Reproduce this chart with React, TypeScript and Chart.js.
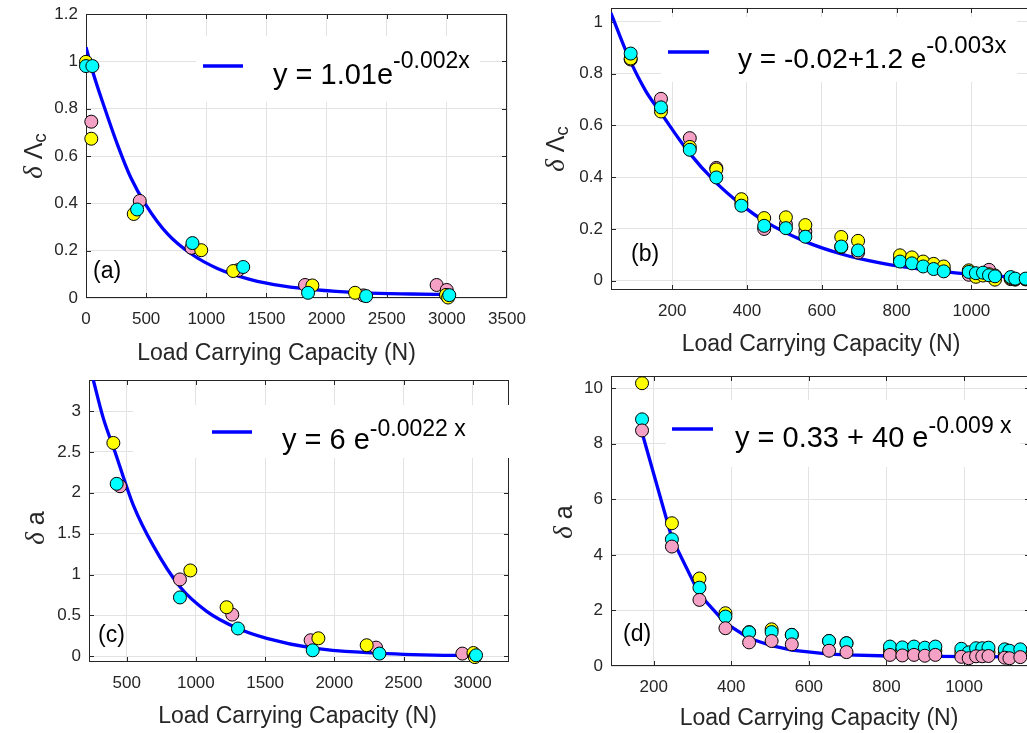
import React, { useEffect, useRef } from "react";
import { Chart, registerables } from "chart.js";

Chart.register(...registerables);

const SANS = '"Liberation Sans", Arial, Helvetica, sans-serif';
const SERIF = '"Liberation Serif", "Times New Roman", serif';

// ---------------- Panel (a) ----------------
const aXTicks = [0, 500, 1000, 1500, 2000, 2500, 3000, 3500];
const aYTicks = [0, 0.2, 0.4, 0.6, 0.8, 1, 1.2];
const aPinkX = [44, 447, 877, 1266, 1821, 2306, 2915, 2999];
const aPinkY = [0.745, 0.41, 0.212, 0.118, 0.055, 0.011, 0.055, 0.034];
const aYellowX = [0, 44, 397, 958, 1224, 1882, 2237, 2993, 3010];
const aYellowY = [0.998, 0.673, 0.355, 0.202, 0.114, 0.053, 0.022, 0.013, 0.002];
const aCyanX = [0, 53, 425, 885, 1307, 1846, 2329, 3020];
const aCyanY = [0.98, 0.98, 0.374, 0.232, 0.131, 0.022, 0.008, 0.012];
const aFitX = [0, 60, 150, 260, 371, 496, 676, 870, 1092, 1369, 1646, 1895, 2300, 2700, 3000];
const aFitY = [1.06, 0.95, 0.81, 0.65, 0.51, 0.395, 0.272, 0.188, 0.125, 0.078, 0.05, 0.035, 0.022, 0.017, 0.015];

// ---------------- Panel (b) ----------------
const bXTicks = [200, 400, 600, 800, 1000];
const bYTicks = [0, 0.2, 0.4, 0.6, 0.8, 1];
const bLoad = [89, 170, 247, 318, 385, 446, 504, 556, 652, 697, 809, 841, 871, 899, 926, 993, 1012, 1031, 1047, 1063, 1105, 1117, 1145];
const bPink = [0.855, 0.703, 0.551, 0.436, 0.3, 0.2, 0.218, 0.19, 0.13, 0.109, 0.08, 0.072, 0.062, 0.052, 0.042, 0.023, 0.02, 0.025, 0.042, 0.02, 0.006, 0.004, 0.005];
const bYellow = [0.859, 0.654, 0.517, 0.43, 0.315, 0.242, 0.245, 0.215, 0.169, 0.154, 0.098, 0.09, 0.074, 0.065, 0.055, 0.04, 0.015, 0.02, 0.025, 0.004, 0.01, 0.006, 0.006];
const bCyan = [0.878, 0.67, 0.506, 0.399, 0.29, 0.212, 0.203, 0.17, 0.132, 0.117, 0.074, 0.067, 0.055, 0.045, 0.036, 0.034, 0.029, 0.031, 0.021, 0.017, 0.014, 0.008, 0.008];
const bFitX = [36, 84, 129, 169, 244, 316, 383, 449, 556, 652, 701, 809, 923, 995, 1101, 1170];
const bFitY = [1.035, 0.862, 0.734, 0.65, 0.497, 0.381, 0.296, 0.228, 0.151, 0.103, 0.085, 0.055, 0.036, 0.025, 0.015, 0.011];

// ---------------- Panel (c) ----------------
const cXTicks = [500, 1000, 1500, 2000, 2500, 3000];
const cYTicks = [0, 0.5, 1, 1.5, 2, 2.5, 3];
const cPinkX = [452, 885, 1263, 1829, 2302, 2925, 3010];
const cPinkY = [2.08, 0.94, 0.51, 0.196, 0.106, 0.033, 0.02];
const cYellowX = [404, 960, 1222, 1885, 2234, 3005, 3015];
const cYellowY = [2.61, 1.05, 0.6, 0.22, 0.135, 0.04, -0.01];
const cCyanX = [428, 885, 1304, 1844, 2326, 3024];
const cCyanY = [2.11, 0.72, 0.34, 0.073, 0.033, 0.012];
const cFitX = [259, 330, 416, 548, 693, 885, 1078, 1304, 1512, 1849, 2234, 2716, 2990];
const cFitY = [3.38, 2.92, 2.5, 1.85, 1.35, 0.85, 0.55, 0.34, 0.22, 0.1, 0.045, 0.015, 0.01];

// ---------------- Panel (d) ----------------
const dXTicks = [200, 400, 600, 800, 1000];
const dYTicks = [0, 2, 4, 6, 8, 10];
const dLoad = [170, 247, 318, 385, 446, 504, 556, 652, 697, 809, 841, 871, 899, 926, 993, 1012, 1031, 1047, 1063, 1105, 1117, 1145];
const dYellow = [10.18, 5.14, 3.15, 1.9, 1.22, 1.32, 1.12, 0.9, 0.82, 0.55, 0.52, 0.55, 0.5, 0.55, 0.48, 0.4, 0.5, 0.5, 0.5, 0.45, 0.42, 0.45];
const dCyan = [8.88, 4.56, 2.82, 1.78, 1.21, 1.22, 1.12, 0.9, 0.82, 0.7, 0.67, 0.7, 0.66, 0.7, 0.62, 0.49, 0.64, 0.64, 0.66, 0.6, 0.55, 0.6];
const dPink = [8.48, 4.3, 2.38, 1.36, 0.85, 0.9, 0.78, 0.55, 0.5, 0.4, 0.38, 0.4, 0.37, 0.4, 0.33, 0.28, 0.35, 0.35, 0.36, 0.3, 0.28, 0.32];
const dFitX = [171, 247, 318, 385, 446, 504, 556, 652, 697, 809, 926, 1031, 1145, 1180];
const dFitY = [8.35, 4.6, 2.58, 1.54, 1.0, 0.73, 0.57, 0.43, 0.4, 0.36, 0.345, 0.335, 0.33, 0.33];

const PINK = "#F5A0C5";
const YELLOW = "#FFFF00";
const CYAN = "#00FFFF";
const BLUE = "#0000FF";
const AXIS = "#262626";
const GRID = "#e3e3e3";
const X_TITLE = "Load Carrying Capacity (N)";

type Series = { x: number[]; y: number[]; color: string; order: number };
type Part = { text: string; font: string; dy?: number };
type PanelCfg = {
  box: [number, number, number, number];
  area: [number, number, number, number];
  xRange: [number, number];
  yRange: [number, number];
  xTicks: number[];
  yTicks: number[];
  fitX: number[];
  fitY: number[];
  smooth: boolean;
  series: Series[];
  xTitle: [number, number];
  yTitle: { x: number; y: number; parts: Part[] };
  legend: {
    rect: [number, number, number, number];
    line: [number, number, number];
    textX: number;
    baseline: number;
    main: string;
    sup: string;
    mainSize: number;
    supSize: number;
    supRaise: number;
  };
  tag: [string, number, number];
};

const sans = (s: number) => `${s}px ${SANS}`;
const deltaFont = `italic 27px ${SERIF}`;
const lambdaParts: Part[] = [
  { text: "\u03B4", font: deltaFont },
  { text: " \u039B", font: sans(25) },
  { text: "c", font: sans(19), dy: 4 },
];
const aParts: Part[] = [
  { text: "\u03B4", font: deltaFont },
  { text: " a", font: sans(25) },
];

const panels: PanelCfg[] = [
  {
    box: [0, 0, 540, 370],
    area: [86, 14, 507, 298],
    xRange: [0, 3500],
    yRange: [0, 1.2],
    xTicks: aXTicks,
    yTicks: aYTicks,
    fitX: aFitX,
    fitY: aFitY,
    smooth: true,
    series: [
      { x: aPinkX, y: aPinkY, color: PINK, order: 3 },
      { x: aYellowX, y: aYellowY, color: YELLOW, order: 2 },
      { x: aCyanX, y: aCyanY, color: CYAN, order: 1 },
    ],
    xTitle: [276.5, 360],
    yTitle: { x: 42, y: 156, parts: lambdaParts },
    legend: {
      rect: [196, 36, 480, 102],
      line: [203, 243, 66],
      textX: 273,
      baseline: 84,
      main: "y = 1.01e",
      sup: "-0.002x",
      mainSize: 29,
      supSize: 23,
      supRaise: 16,
    },
    tag: ["(a)", 93, 278],
  },
  {
    box: [510, 0, 560, 360],
    area: [611, 6, 1035, 290],
    xRange: [36.4, 1170],
    yRange: [-0.036, 1.056],
    xTicks: bXTicks,
    yTicks: bYTicks,
    fitX: bFitX,
    fitY: bFitY,
    smooth: true,
    series: [
      { x: bLoad, y: bPink, color: PINK, order: 3 },
      { x: bLoad, y: bYellow, color: YELLOW, order: 2 },
      { x: bLoad, y: bCyan, color: CYAN, order: 1 },
    ],
    xTitle: [821, 350.7],
    yTitle: { x: 564, y: 149, parts: lambdaParts },
    legend: {
      rect: [661, 17, 1017, 82],
      line: [668, 709, 52],
      textX: 738,
      baseline: 68,
      main: "y = -0.02+1.2 e",
      sup: "-0.003x",
      mainSize: 28,
      supSize: 24,
      supRaise: 15,
    },
    tag: ["(b)", 631, 261],
  },
  {
    box: [0, 360, 540, 373],
    area: [89, 380, 509, 662],
    xRange: [228, 3262],
    yRange: [-0.07, 3.38],
    xTicks: cXTicks,
    yTicks: cYTicks,
    fitX: cFitX,
    fitY: cFitY,
    smooth: true,
    series: [
      { x: cPinkX, y: cPinkY, color: PINK, order: 3 },
      { x: cYellowX, y: cYellowY, color: YELLOW, order: 2 },
      { x: cCyanX, y: cCyanY, color: CYAN, order: 1 },
    ],
    xTitle: [297.5, 722.7],
    yTitle: { x: 44, y: 528, parts: aParts },
    legend: {
      rect: [133, 405, 515, 458],
      line: [212, 252, 432],
      textX: 282,
      baseline: 449,
      main: "y = 6 e",
      sup: "-0.0022 x",
      mainSize: 29,
      supSize: 23,
      supRaise: 13,
    },
    tag: ["(c)", 98, 642],
  },
  {
    box: [510, 360, 560, 373],
    area: [611, 376, 1030, 666],
    xRange: [90, 1170],
    yRange: [0, 10.44],
    xTicks: dXTicks,
    yTicks: dYTicks,
    fitX: dFitX,
    fitY: dFitY,
    smooth: false,
    series: [
      { x: dLoad, y: dYellow, color: YELLOW, order: 3 },
      { x: dLoad, y: dCyan, color: CYAN, order: 2 },
      { x: dLoad, y: dPink, color: PINK, order: 1 },
    ],
    xTitle: [819, 725],
    yTitle: { x: 572, y: 522, parts: aParts },
    legend: {
      rect: [666, 400, 1020, 467],
      line: [672, 713, 429],
      textX: 735,
      baseline: 447,
      main: "y = 0.33 + 40 e",
      sup: "-0.009 x",
      mainSize: 29,
      supSize: 23,
      supRaise: 14,
    },
    tag: ["(d)", 623, 641],
  },
];

function drawParts(ctx: CanvasRenderingContext2D, parts: Part[], x: number, y: number, align: "left" | "center") {
  let total = 0;
  for (const p of parts) {
    ctx.font = p.font;
    total += ctx.measureText(p.text).width;
  }
  let cx = align === "center" ? x - total / 2 : x;
  for (const p of parts) {
    ctx.font = p.font;
    ctx.fillText(p.text, cx, y + (p.dy || 0));
    cx += ctx.measureText(p.text).width;
  }
}

function Panel({ cfg }: { cfg: PanelCfg }) {
  const ref = useRef<HTMLCanvasElement>(null);
  useEffect(() => {
    const [cl, ct, cw, ch] = cfg.box;
    const [al, at, ar, ab] = cfg.area;
    const deco = {
      id: "deco",
      beforeDatasetsDraw(chart: any) {
        const { ctx, chartArea: a, scales } = chart;
        const xs = scales.x;
        const ys = scales.y;
        ctx.save();
        ctx.strokeStyle = AXIS;
        ctx.lineWidth = 1;
        const L = Math.round(a.left) + 0.5;
        const R = Math.round(a.right) - 0.5;
        const T = Math.round(a.top) + 0.5;
        const B = Math.round(a.bottom) - 0.5;
        ctx.strokeRect(L, T, R - L, B - T);
        ctx.beginPath();
        const tl = 4.5;
        for (const v of cfg.xTicks) {
          const px = Math.round(xs.getPixelForValue(v)) + 0.5;
          if (px < L || px > R) continue;
          ctx.moveTo(px, B);
          ctx.lineTo(px, B - tl);
          ctx.moveTo(px, T);
          ctx.lineTo(px, T + tl);
        }
        for (const v of cfg.yTicks) {
          const py = Math.round(ys.getPixelForValue(v)) + 0.5;
          if (py < T || py > B) continue;
          ctx.moveTo(L, py);
          ctx.lineTo(L + tl, py);
          ctx.moveTo(R, py);
          ctx.lineTo(R - tl, py);
        }
        ctx.stroke();
        ctx.restore();
      },
      afterDatasetsDraw(chart: any) {
        const ctx: CanvasRenderingContext2D = chart.ctx;
        const lg = cfg.legend;
        ctx.save();
        ctx.translate(-cl, -ct);
        ctx.fillStyle = "#ffffff";
        ctx.fillRect(lg.rect[0], lg.rect[1], lg.rect[2] - lg.rect[0], lg.rect[3] - lg.rect[1]);
        ctx.strokeStyle = BLUE;
        ctx.lineWidth = 3.5;
        ctx.beginPath();
        ctx.moveTo(lg.line[0], lg.line[2]);
        ctx.lineTo(lg.line[1], lg.line[2]);
        ctx.stroke();
        ctx.fillStyle = "#000000";
        ctx.textBaseline = "alphabetic";
        ctx.textAlign = "left";
        drawParts(
          ctx,
          [
            { text: lg.main, font: sans(lg.mainSize) },
            { text: lg.sup, font: sans(lg.supSize), dy: -lg.supRaise },
          ],
          lg.textX,
          lg.baseline,
          "left"
        );
        ctx.font = sans(23);
        ctx.fillStyle = "#000000";
        ctx.fillText(cfg.tag[0], cfg.tag[1], cfg.tag[2]);
        ctx.fillStyle = AXIS;
        ctx.font = sans(23);
        ctx.textAlign = "center";
        ctx.fillText(X_TITLE, cfg.xTitle[0], cfg.xTitle[1]);
        ctx.textAlign = "left";
        ctx.save();
        ctx.translate(cfg.yTitle.x, cfg.yTitle.y);
        ctx.rotate(-Math.PI / 2);
        drawParts(ctx, cfg.yTitle.parts, 0, 0, "center");
        ctx.restore();
        ctx.restore();
      },
    };

    const toPts = (xs: number[], ys: number[]) => xs.map((v, i) => ({ x: v, y: ys[i] }));
    const datasets: any[] = cfg.series.map((s) => ({
      data: toPts(s.x, s.y),
      backgroundColor: s.color,
      borderColor: "#000000",
      pointBackgroundColor: s.color,
      pointBorderColor: "#000000",
      pointBorderWidth: 1,
      pointRadius: 6.5,
      pointHoverRadius: 6.5,
      clip: false,
      order: s.order,
    }));
    datasets.push({
      data: toPts(cfg.fitX, cfg.fitY),
      showLine: true,
      borderColor: BLUE,
      borderWidth: 3.3,
      pointRadius: 0,
      pointHoverRadius: 0,
      fill: false,
      cubicInterpolationMode: cfg.smooth ? "monotone" : "default",
      tension: 0,
      order: 10,
    });

    const tickFont = { family: SANS, size: 17 };
    const chart = new Chart(ref.current as HTMLCanvasElement, {
      type: "scatter",
      data: { datasets },
      options: {
        animation: false,
        responsive: false,
        maintainAspectRatio: false,
        devicePixelRatio: 1,
        events: [],
        layout: {
          padding: { left: 0, top: at - ct, right: cl + cw - ar, bottom: 0 },
        },
        plugins: { legend: { display: false }, tooltip: { enabled: false } },
        scales: {
          x: {
            type: "linear",
            position: "bottom",
            min: cfg.xRange[0],
            max: cfg.xRange[1],
            afterBuildTicks: (s: any) => {
              s.ticks = cfg.xTicks.map((v) => ({ value: v }));
            },
            afterFit: (s: any) => {
              s.height = ct + ch - ab;
              s.paddingLeft = 0;
              s.paddingRight = 0;
              s.paddingTop = 0;
              s.paddingBottom = 0;
            },
            grid: { color: GRID, lineWidth: 1, drawTicks: false },
            border: { display: false },
            ticks: {
              color: AXIS,
              font: tickFont,
              padding: 11,
              maxRotation: 0,
              autoSkip: false,
              callback: (v: any) => String(v),
            },
          },
          y: {
            type: "linear",
            position: "left",
            min: cfg.yRange[0],
            max: cfg.yRange[1],
            afterBuildTicks: (s: any) => {
              s.ticks = cfg.yTicks.map((v) => ({ value: v }));
            },
            afterFit: (s: any) => {
              s.width = al - cl;
              s.paddingLeft = 0;
              s.paddingRight = 0;
              s.paddingTop = 0;
              s.paddingBottom = 0;
            },
            grid: { color: GRID, lineWidth: 1, drawTicks: false },
            border: { display: false },
            ticks: {
              color: AXIS,
              font: tickFont,
              padding: 8,
              autoSkip: false,
              callback: (v: any) => String(v),
            },
          },
        },
      } as any,
      plugins: [deco as any],
    });
    return () => chart.destroy();
  }, [cfg]);
  const [cl, ct, cw, ch] = cfg.box;
  return (
    <canvas
      ref={ref}
      width={cw}
      height={ch}
      style={{ position: "absolute", left: cl, top: ct, width: cw, height: ch }}
    />
  );
}

export default function App() {
  return (
    <div
      style={{
        position: "absolute",
        left: 0,
        top: 0,
        width: 1027,
        height: 733,
        overflow: "hidden",
        background: "#ffffff",
      }}
    >
      {panels.map((p, i) => (
        <Panel key={i} cfg={p} />
      ))}
    </div>
  );
}
